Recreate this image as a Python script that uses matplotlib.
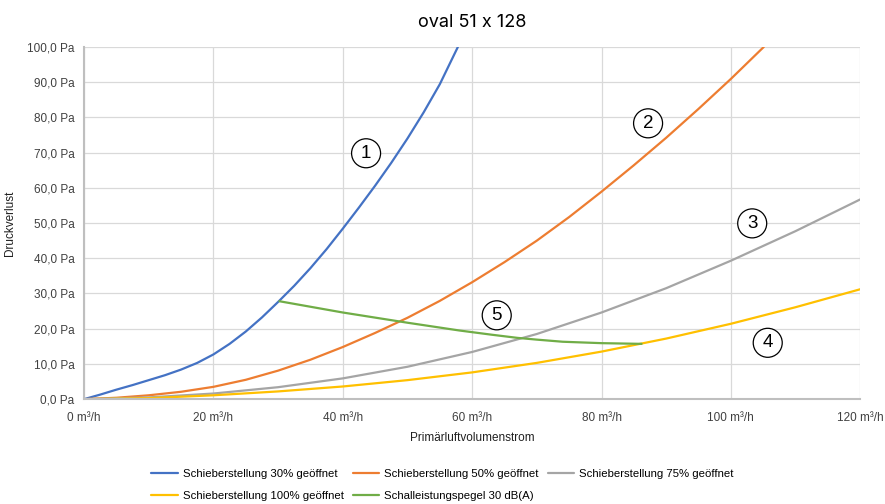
import numpy as np
from matplotlib import pyplot as plt

plt.rcParams['font.family'] = ['Liberation Sans', 'DejaVu Sans']

# volume flow (m3/h) and pressure loss (Pa)
x30 = [0, 2.5, 5, 7.5, 10, 12.5, 15, 17.5, 20, 22.5, 25, 27.5, 30, 32.5, 35, 37.5,
       40, 42.5, 45, 47.5, 50, 52.5, 55, 57.8]
y30 = [0, 1.3, 2.7, 4.0, 5.4, 6.8, 8.4, 10.3, 12.7, 15.7, 19.2, 23.2, 27.6, 32.2, 37.2, 42.6,
       48.4, 54.4, 60.6, 67.1, 74.0, 81.4, 89.4, 100]

x50 = [0, 5, 10, 15, 20, 25, 30, 35, 40, 45, 50, 55, 60, 65, 70, 75, 80, 85, 90, 95, 100, 105.1]
y50 = [0, 0.4, 1.1, 2.1, 3.5, 5.5, 8.1, 11.2, 14.8, 18.8, 23.1, 27.9, 33.2, 38.9, 45.0, 51.7,
       58.9, 66.4, 74.2, 82.4, 90.9, 100]

x75 = [0, 10, 20, 30, 40, 50, 60, 70, 80, 90, 100, 110, 120]
y75 = [0, 0.5, 1.6, 3.4, 5.9, 9.2, 13.4, 18.5, 24.6, 31.5, 39.3, 47.7, 56.7]

x100 = [0, 10, 20, 30, 40, 50, 60, 70, 80, 90, 100, 110, 120]
y100 = [0, 0.3, 1.1, 2.2, 3.6, 5.4, 7.6, 10.3, 13.5, 17.2, 21.4, 26.1, 31.2]

xschall = [30.2, 40, 50, 58, 63, 67, 70, 74, 80, 86.2]
yschall = [27.8, 24.6, 21.7, 19.5, 18.3, 17.4, 16.9, 16.3, 15.9, 15.7]

labels = ['Schieberstellung 30% geöffnet', 'Schieberstellung 50% geöffnet',
          'Schieberstellung 75% geöffnet', 'Schieberstellung 100% geöffnet',
          'Schalleistungspegel 30 dB(A)']
colors = ['#4472C4', '#ED7D31', '#A5A5A5', '#FFC000', '#70AD47']

# circled numbers: text, x, y
marks = [('1', 43.6, 69.8), ('2', 87.2, 78.3), ('3', 103.3, 49.9), ('4', 105.7, 16.0), ('5', 63.8, 23.8)]

fig = plt.figure(figsize=(8.85, 5.04), dpi=100)
ax = fig.add_axes([0.095, 0.208, 0.877, 0.699])

h = []
for xs, ys, c, l in zip([x30, x50, x75, x100, xschall], [y30, y50, y75, y100, yschall], colors, labels):
    ln, = ax.plot(xs, ys, color=c, lw=1.6, label=l, solid_capstyle='round', solid_joinstyle='round')
    h.append(ln)

for t, mx, my in marks:
    ax.text(mx, my, t, fontsize=13.5, ha='center', va='center',
            bbox=dict(boxstyle='circle,pad=0.32', fc='white', ec='black', lw=0.9))

ax.set_xlim(0, 120)
ax.set_ylim(0, 100)
ax.set_xticks(np.arange(0, 121, 20))
ax.set_xticklabels(['%d m³/h' % v for v in range(0, 121, 20)])
ax.set_yticks(np.arange(0, 101, 10))
ax.set_yticklabels(['%d,0 Pa' % v for v in range(0, 101, 10)])
ax.tick_params(length=0, labelsize=8.5, colors='#404040', pad=7)
ax.tick_params(axis='x', pad=9)
ax.grid(color='#D9D9D9', lw=0.9)
ax.set_axisbelow(True)
for s in ['top', 'right']:
    ax.spines[s].set_visible(False)
for s in ['left', 'bottom']:
    ax.spines[s].set_color('#BFBFBF')
    ax.spines[s].set_linewidth(1.5)

ax.set_xlabel('Primärluftvolumenstrom', fontsize=8.5, color='#202020', labelpad=6)
ax.set_ylabel('Druckverlust', fontsize=8.5, color='#202020', labelpad=8)
ax.set_title('oval 51 x 128', fontsize=13, pad=14, family=['Inter', 'DejaVu Sans'])

order = [0, 3, 1, 4, 2]
fig.legend([h[i] for i in order], [labels[i] for i in order], ncol=3, loc='lower center',
           bbox_to_anchor=(0.5, -0.014), frameon=False, fontsize=8.2, handlelength=2.3,
           columnspacing=0.8, handletextpad=0.45, labelspacing=1.0)

plt.savefig('out.png', dpi=100)
